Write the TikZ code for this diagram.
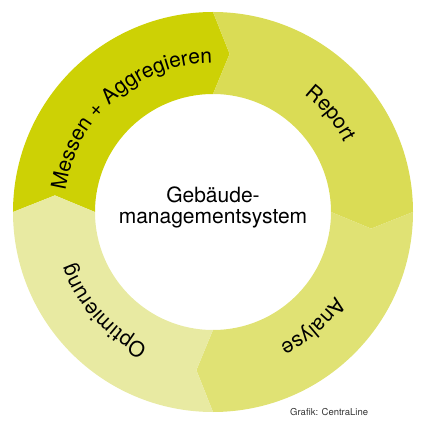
\documentclass[tikz,border=0pt]{standalone}
\usepackage{fontspec}
\setmainfont{TeX Gyre Heros}
\usetikzlibrary{decorations.text}
\definecolor{MessGreen}{HTML}{CDD105}
\definecolor{ReportGreen}{HTML}{DADC55}
\definecolor{AnalyseGreen}{HTML}{E0E274}
\definecolor{OptGreen}{HTML}{E8EAA2}
\definecolor{CreditGray}{HTML}{333333}
\newcommand{\ringfont}{\fontsize{21}{24}\selectfont}

\begin{document}
\begin{tikzpicture}[x=1pt, y=1pt,
  ringlabel/.style={decorate, decoration={text along path, text align=center, text={#1}}}]
  \useasboundingbox (-213,-216) rectangle (215,212);
  % Ring segments, each ending in a tip pointing clockwise
  \foreach \s/\col in {180/MessGreen, 90/ReportGreen, 0/AnalyseGreen, -90/OptGreen}{
    \fill[\col] (\s:200) arc[start angle=\s, end angle=\s-90, radius=200]
      -- ({\s-96}:159) -- ({\s-90}:118)
      arc[start angle=\s-90, end angle=\s, radius=118]
      -- ({\s-6}:159) -- cycle;
  }
  % Labels along the ring
  \path[ringlabel={|\ringfont|Messen + Aggregieren}] (191:149) arc[start angle=191, end angle=71, radius=149];
  \path[ringlabel={|\ringfont|Report}] (100:149) arc[start angle=100, end angle=-20, radius=149];
  \path[ringlabel={|\ringfont|Analyse}] (11:149) arc[start angle=11, end angle=-109, radius=149];
  \path[ringlabel={|\ringfont|Optimierung}] (282:149) arc[start angle=282, end angle=162, radius=149];
  % Centre and credit
  \node[font=\fontsize{21}{21}\selectfont, align=center] (system) at (0,4.5) {Gebäude-\\managementsystem};
  \node[font=\fontsize{9.5}{11}\selectfont, text=CreditGray, anchor=base west, inner sep=0pt]
    (credit) at (77,-203) {Grafik: CentraLine};
\end{tikzpicture}
\end{document}
